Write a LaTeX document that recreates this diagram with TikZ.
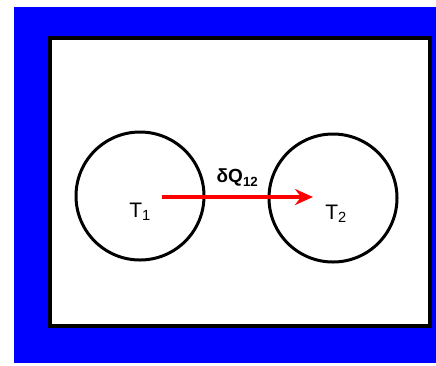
\documentclass[tikz,border=0pt]{standalone}
\usepackage{fontspec}
\setmainfont{Liberation Sans}
\usetikzlibrary{arrows.meta,positioning}
\definecolor{frame}{HTML}{0000FF}
\definecolor{heat}{HTML}{FF0000}

\begin{document}
\begin{tikzpicture}[x=1pt,y=-1pt,font=\fontsize{21}{25}\selectfont,
    body/.style={circle,draw,line width=3pt,minimum size=128pt,inner sep=0pt}]
  \useasboundingbox (0,0) rectangle (436,365);
  \fill[frame] (14,7) rectangle (436,363);
  \draw[fill=white,line width=4pt] (50,38) rectangle (430,326);
  \node[body] (b1) at (140,196) {};
  \node[body] (b2) at (333,198) {};
  \node (t1) at (140,212) {T\textsubscript{1}};
  \node (t2) at (336,214) {T\textsubscript{2}};
  \coordinate (qfrom) at (162,197);
  \coordinate (qto) at (313,197);
  \draw[-{Stealth[length=18pt,width=16pt,inset=6pt]},heat,line width=4pt] (qfrom) -- (qto)
    node[midway,above=5pt,black,font=\bfseries\fontsize{19}{23}\selectfont] (dq) {δQ\textsubscript{12}};
\end{tikzpicture}
\end{document}
